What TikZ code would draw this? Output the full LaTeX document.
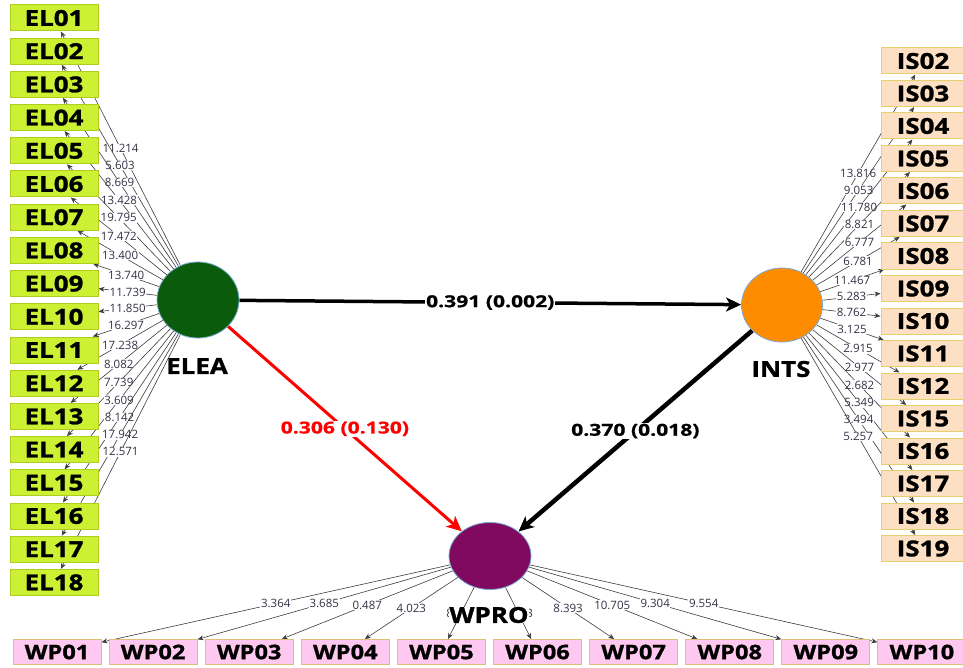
\documentclass[tikz,border=0pt]{standalone}
\usepackage{fontspec}
\setmainfont{Open Sans}
\newfontfamily\boxfont{Open Sans}[FakeStretch=1.18,FakeBold=1.2]
\newfontfamily\pathfont{Open Sans}[FakeStretch=1.28,FakeBold=0.8]
\usetikzlibrary{shapes.geometric,arrows.meta}
\pgfdeclarelayer{bg}
\pgfsetlayers{bg,main}

\definecolor{elfill}{RGB}{204,240,50}
\definecolor{elline}{RGB}{175,205,30}
\definecolor{isfill}{RGB}{253,224,196}
\definecolor{isline}{RGB}{230,208,110}
\definecolor{wpfill}{RGB}{255,200,240}
\definecolor{wpline}{RGB}{222,190,120}
\definecolor{eleacol}{RGB}{10,92,12}
\definecolor{intscol}{RGB}{255,140,0}
\definecolor{wprocol}{RGB}{128,10,96}
\definecolor{rimcol}{RGB}{120,170,210}
\definecolor{loadcol}{RGB}{60,60,60}
\definecolor{numcol}{RGB}{50,50,70}
\definecolor{pathred}{RGB}{255,0,0}

\tikzset{
  latent/.style={ellipse, draw=rimcol, line width=0.8pt, minimum width=82pt,
    minimum height=76pt, inner sep=0pt},
  boxbase/.style={rectangle, line width=1pt, minimum height=26pt, inner sep=0pt,
    font=\boxfont\bfseries\fontsize{22}{24}\selectfont},
  elbox/.style={boxbase, draw=elline, fill=elfill, minimum width=88pt},
  isbox/.style={boxbase, draw=isline, fill=isfill, minimum width=84pt},
  wpbox/.style={boxbase, draw=wpline, fill=wpfill, minimum width=88pt, minimum height=25pt,
    font=\boxfont\bfseries\fontsize{20}{22}\selectfont},
  latlabel/.style={font=\boxfont\bfseries\fontsize{22}{24}\selectfont, inner sep=0pt},
  loading/.style={draw=loadcol, line width=0.6pt, -{Stealth[length=6pt,width=5pt]}},
  wt/.style={fill=white, inner sep=0.6pt, text=numcol, font=\fontsize{11.5}{12}\selectfont},
  pathline/.style={line width=3.5pt, -{Stealth[length=15pt,width=14pt,inset=4pt]}},
  pathlbl/.style={fill=white, inner sep=1pt, font=\pathfont\bfseries\fontsize{16.5}{18}\selectfont}
}

\begin{document}
\begin{tikzpicture}[x=1pt,y=-1pt]
  \useasboundingbox (0,0) rectangle (963,668);
  \clip (0,0) rectangle (963,668);

  % latent variables
  \node[latent, fill=eleacol, minimum width=82pt, minimum height=76pt] (ELEA) at (198,300) {};
  \node[latent, fill=intscol, minimum width=81pt, minimum height=74pt] (INTS) at (782,305) {};
  \node[latent, fill=wprocol, minimum width=82pt, minimum height=67pt] (WPRO) at (490,556) {};
  \node[latlabel] (ELEAlbl) at (197,366) {ELEA};
  \node[latlabel] (INTSlbl) at (781,369) {INTS};

  % indicator boxes of ELEA
  \foreach \n [count=\k from 0] in {01,02,03,04,05,06,07,08,09,10,11,12,13,14,15,16,17,18}
    \node[elbox] (EL\n) at (54,{18+33.2*\k}) {EL\n};

  % indicator boxes of INTS
  \foreach \n [count=\k from 0] in {02,03,04,05,06,07,08,09,10,11,12,15,16,17,18,19}
    \node[isbox] (IS\n) at (923,{61+32.5*\k}) {IS\n};

  % indicator boxes of WPRO
  \foreach \n [count=\k from 0] in {01,02,03,04,05,06,07,08,09,10}
    \node[wpbox] (WP\n) at ({57+96.1*\k},652) {WP\n};

  \begin{pgfonlayer}{bg}
    % outer loadings
    \foreach \n/\w in {01/11.214,02/5.603,03/8.669,04/13.428,05/19.795,06/17.472,
        07/13.400,08/13.740,09/11.739,10/11.850,11/16.297,12/17.238,13/8.082,
        14/7.739,15/3.609,16/8.142,17/17.942,18/12.571}
      \draw[loading] (ELEA) -- node[wt] {\w} (EL\n);
    \foreach \n/\w in {02/13.816,03/9.053,04/11.780,05/8.821,06/6.777,07/6.781,
        08/11.467,09/5.283,10/8.762,11/3.125,12/2.915,15/2.977,16/2.682,
        17/5.349,18/3.494,19/5.257}
      \draw[loading] (INTS) -- node[wt] {\w} (IS\n);
    \foreach \n/\w in {01/3.364,02/3.685,03/0.487,04/4.023,05/8.313,06/6.763,
        07/8.393,08/10.705,09/9.304,10/9.554}
      \draw[loading] (WPRO) -- node[wt] {\w} (WP\n);

    % structural paths
    \draw[pathline] (ELEA) -- node[pathlbl] {0.391 (0.002)} (INTS);
    \draw[pathline, draw=pathred, line width=3pt] (ELEA) --
      node[pathlbl, text=pathred] {0.306 (0.130)} (WPRO);
    \draw[pathline, line width=4.5pt] (INTS) -- node[pathlbl] {0.370 (0.018)} (WPRO);
  \end{pgfonlayer}

  \node[latlabel, fill=white, inner sep=0.3pt] (WPROlbl) at (489,615) {WPRO};
\end{tikzpicture}
\end{document}
